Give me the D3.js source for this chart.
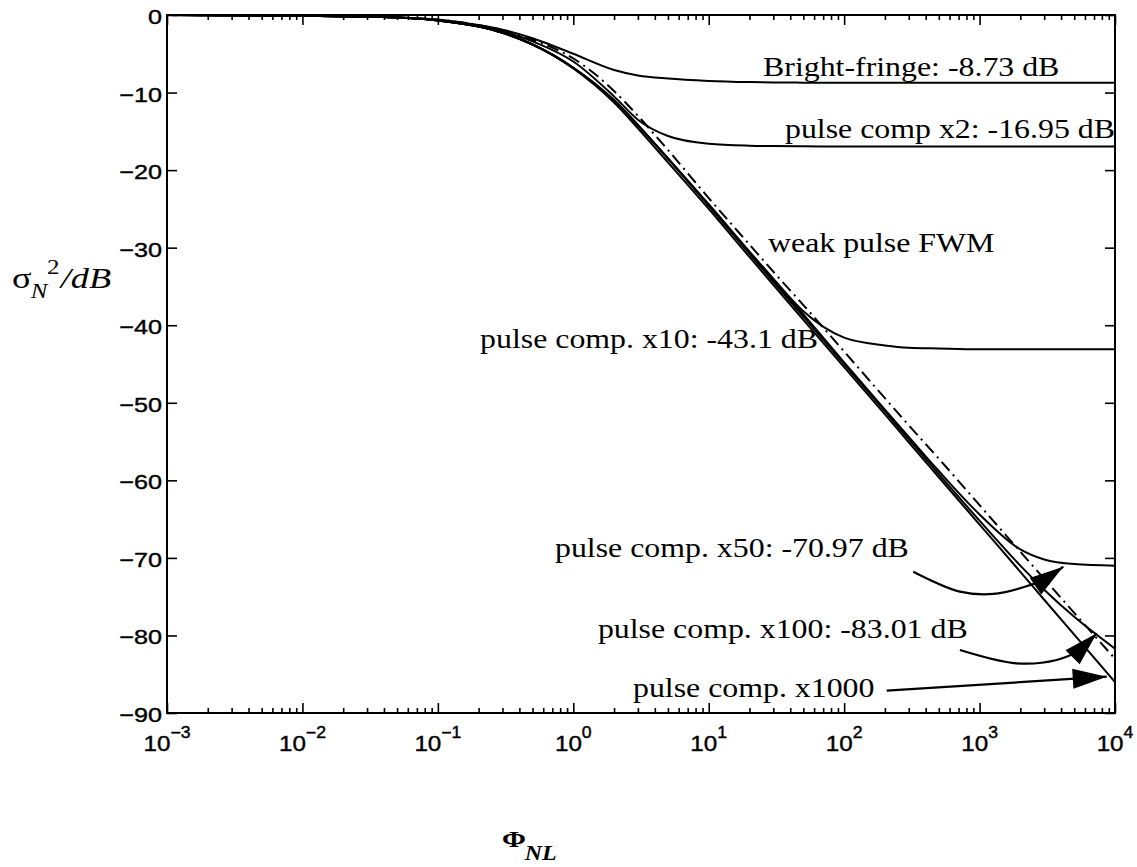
<!DOCTYPE html>
<html>
<head>
<meta charset="utf-8">
<script src="https://cdn.jsdelivr.net/npm/d3@7"></script>
<style>
  body { margin: 0; background: #fff; }
  svg { display: block; }
</style>
</head>
<body>
<div id="chart"></div>
<script>
/* Values: sigma_N^2 in dB against Phi_NL */
const phi = [0.001, 0.01, 0.03, 0.1, 0.2, 0.3, 0.5, 1, 2, 3, 5, 10, 20, 30, 50, 100, 200, 300, 500, 1000, 2000, 3000, 5000, 10000];

const brightFringe = [0, -0.1, -0.2, -0.6, -1.3, -1.9, -3.0, -5.0, -7.1, -7.8, -8.2, -8.5, -8.65, -8.7, -8.72, -8.73, -8.73, -8.73, -8.73, -8.73, -8.73, -8.73, -8.73, -8.73];
const pulseX2 = [0, -0.1, -0.2, -0.6, -1.4, -2.1, -3.4, -6.0, -10.5, -13.5, -15.6, -16.6, -16.85, -16.9, -16.93, -16.95, -16.95, -16.95, -16.95, -16.95, -16.95, -16.95, -16.95, -16.95];
const weakFWM = [0, -0.1, -0.2, -0.6, -1.3, -2.0, -3.2, -5.6, -9.8, -13.0, -17.4, -23.6, -29.6, -33.1, -37.4, -43.4, -49.4, -52.9, -57.2, -63.2, -69.2, -72.7, -77.1, -83.0];
const pulseX10 = [0, -0.1, -0.2, -0.7, -1.5, -2.3, -3.8, -6.8, -11.0, -14.2, -18.5, -24.4, -30.5, -34.0, -38.2, -41.6, -42.6, -42.9, -43.0, -43.1, -43.1, -43.1, -43.1, -43.1];
const pulseX50 = [0, -0.1, -0.2, -0.7, -1.5, -2.3, -3.8, -6.8, -11.0, -14.2, -18.5, -24.5, -30.6, -34.2, -38.6, -44.8, -50.9, -54.4, -58.8, -64.4, -68.9, -70.2, -70.8, -71.0];
const pulseX100 = [0, -0.1, -0.2, -0.7, -1.5, -2.3, -3.8, -6.8, -11.0, -14.2, -18.5, -24.6, -30.8, -34.4, -38.9, -45.0, -51.1, -54.7, -59.2, -65.2, -71.0, -74.1, -77.6, -81.7];
const pulseX1000 = [0, -0.1, -0.2, -0.7, -1.5, -2.3, -3.8, -6.9, -11.3, -14.6, -19.0, -25.0, -31.2, -34.8, -39.3, -45.4, -51.5, -55.1, -59.6, -65.7, -71.8, -75.4, -79.9, -86.0];

// tick labels
const yTicks = [0, -10, -20, -30, -40, -50, -60, -70, -80, -90];
const xExponents = [-3, -2, -1, 0, 1, 2, 3, 4];

// annotation texts, anchored at their left baseline in data units [phi, dB]
const labels = [
  {text: "Bright-fringe: -8.73 dB", at: [25.2, -7.87]},
  {text: "pulse comp x2: -16.95 dB", at: [36.6, -15.86]},
  {text: "weak pulse FWM", at: [27.4, -30.6]},
  {text: "pulse comp. x10: -43.1 dB", at: [0.205, -42.93]},
  {text: "pulse comp. x50: -70.97 dB", at: [0.733, -69.88]},
  {text: "pulse comp. x100: -83.01 dB", at: [1.52, -80.32]},
  {text: "pulse comp. x1000", at: [2.76, -87.93]}
];

// arrow paths in data units, last point is the tip
const arrowX50 = [[324, -71.78], [716, -74.35], [1262, -74.65], [2104, -73.79], [3133, -72.63], [4150, -71.13]];
const arrowX100 = [[716, -81.87], [1879, -83.59], [3707, -83.16], [5508, -81.87], [7328, -79.72]];
const arrowX1000 = [[206, -87.12], [8690, -85.31]];

/* the scan is stretched sideways, so text gets a bit of stretch too */
const SX = 1.18;
const serif = "'Liberation Serif', 'Times New Roman', Times, serif";
const sans = "'Liberation Sans', Arial, Helvetica, sans-serif";

const width = 1137, height = 867;
const margins = {top: 15, right: 22, bottom: 154, left: 167};

const svg = d3.select("#chart")
  .append("svg")
    .attr("width", width)
    .attr("height", height)
    .attr("viewBox", [0, 0, width, height]);

const xScale = d3.scaleLog()
  .domain([1e-3, 1e4])
  .range([margins.left, width - margins.right]);

const yScale = d3.scaleLinear()
  .domain([-90, 0])
  .range([height - margins.bottom, margins.top]);

const x0 = margins.left, x1 = width - margins.right;
const y0 = height - margins.bottom, y1 = margins.top;

svg.append("clipPath").attr("id", "plot-area")
  .append("rect")
    .attr("x", x0).attr("y", y1 - 2)
    .attr("width", x1 - x0).attr("height", y0 - y1 + 4);

/* curves */
const line = d3.line()
  .curve(d3.curveMonotoneX)
  .x(d => xScale(d[0]))
  .y(d => yScale(d[1]));

const series = [
  {name: "bright", values: brightFringe, dash: null},
  {name: "x2", values: pulseX2, dash: null},
  {name: "weak", values: weakFWM, dash: "12,5,2,5"},
  {name: "x10", values: pulseX10, dash: null},
  {name: "x50", values: pulseX50, dash: null},
  {name: "x100", values: pulseX100, dash: null},
  {name: "x1000", values: pulseX1000, dash: null}
];

svg.append("g")
  .attr("clip-path", "url(#plot-area)")
  .selectAll("path")
  .data(series)
  .join("path")
    .attr("d", s => line(s.values.map((v, i) => [phi[i], v])))
    .attr("fill", "none")
    .attr("stroke", "#000")
    .attr("stroke-width", 2)
    .attr("stroke-dasharray", s => s.dash);

/* ticks on all four sides, pointing inwards */
const majors = xExponents.map(e => Math.pow(10, e));
const minors = d3.range(-3, 4).flatMap(e => d3.range(2, 10).map(k => k * Math.pow(10, e)));

const tickGroup = (axis, tx, ty) => svg.append("g")
  .attr("transform", `translate(${tx},${ty})`)
  .call(axis.tickFormat(""))
  .call(g => g.select(".domain").remove())
  .call(g => g.selectAll("line").attr("stroke", "#000").attr("stroke-width", 1.6));

tickGroup(d3.axisBottom(xScale).tickValues(majors).tickSize(-10), 0, y0);
tickGroup(d3.axisBottom(xScale).tickValues(minors).tickSize(-5), 0, y0);
tickGroup(d3.axisTop(xScale).tickValues(majors).tickSize(-10), 0, y1);
tickGroup(d3.axisTop(xScale).tickValues(minors).tickSize(-5), 0, y1);
tickGroup(d3.axisLeft(yScale).tickValues(yTicks).tickSize(-10), x0, 0);
tickGroup(d3.axisRight(yScale).tickValues(yTicks).tickSize(-10), x1, 0);

// frame
svg.append("rect")
  .attr("x", x0).attr("y", y1)
  .attr("width", x1 - x0).attr("height", y0 - y1)
  .attr("fill", "none")
  .attr("stroke", "#000")
  .attr("stroke-width", 2);

/* stretched text helper */
const stretched = (x, y, sx = SX) => svg.append("g")
  .attr("transform", `translate(${x},${y}) scale(${sx},1)`);

// y tick labels
yTicks.forEach(v => {
  stretched(x0 - 5, yScale(v) + 9, 1.2)
    .append("text")
      .attr("text-anchor", "end")
      .attr("font-family", sans)
      .attr("font-size", 21)
      .attr("stroke", "#000")
      .attr("stroke-width", 0.4)
      .text(v === 0 ? "0" : "\u2212" + Math.abs(v));
});

// x tick labels 10^e
xExponents.forEach(e => {
  const t = stretched(xScale(Math.pow(10, e)), 751, 1.1)
    .append("text")
      .attr("text-anchor", "middle")
      .attr("font-family", sans)
      .attr("font-size", 22)
      .attr("stroke", "#000")
      .attr("stroke-width", 0.4);
  t.append("tspan").text("10");
  t.append("tspan")
    .attr("dy", -13)
    .attr("font-size", 16)
    .text(e < 0 ? "\u2212" + Math.abs(e) : String(e));
});

// annotations
labels.forEach(l => {
  stretched(xScale(l.at[0]), yScale(l.at[1]))
    .append("text")
      .attr("font-family", serif)
      .attr("font-size", 27)
      .text(l.text);
});

/* arrows */
const arrowLine = d3.line()
  .curve(d3.curveCatmullRom)
  .x(d => xScale(d[0]))
  .y(d => yScale(d[1]));

[arrowX50, arrowX100, arrowX1000].forEach(pts => {
  svg.append("path")
    .attr("d", arrowLine(pts))
    .attr("fill", "none")
    .attr("stroke", "#000")
    .attr("stroke-width", 2.2);

  const tip = pts[pts.length - 1], prev = pts[pts.length - 2];
  const tx = xScale(tip[0]), ty = yScale(tip[1]);
  const dx = tx - xScale(prev[0]), dy = ty - yScale(prev[1]);
  const len = Math.hypot(dx, dy);
  const ux = dx / len, uy = dy / len;
  const L = 34, W = 10;
  const bx = tx - ux * L, by = ty - uy * L;
  svg.append("path")
    .attr("d", `M${tx},${ty}L${bx - uy * W},${by + ux * W}L${bx + uy * W},${by - ux * W}Z`)
    .attr("fill", "#000");
});

/* axis titles */
const yTitle = stretched(12, 288, 1.25)
  .append("text")
    .attr("font-family", serif)
    .attr("font-size", 29);
yTitle.append("tspan").attr("x", 0).text("\u03c3");
yTitle.append("tspan").attr("x", 15).attr("dy", 10).attr("font-size", 20).attr("font-style", "italic").text("N");
yTitle.append("tspan").attr("x", 28).attr("dy", -24).attr("font-size", 20).text("2");
yTitle.append("tspan").attr("x", 39).attr("dy", 14).attr("font-style", "italic").text("/dB");

const xTitle = stretched(502, 847, 1.2)
  .append("text")
    .attr("font-family", serif)
    .attr("font-weight", "bold")
    .attr("font-size", 24);
xTitle.append("tspan").attr("x", 0).text("\u03a6");
xTitle.append("tspan").attr("x", 19).attr("dy", 13).attr("font-size", 20).attr("font-style", "italic").text("NL");
</script>
</body>
</html>
